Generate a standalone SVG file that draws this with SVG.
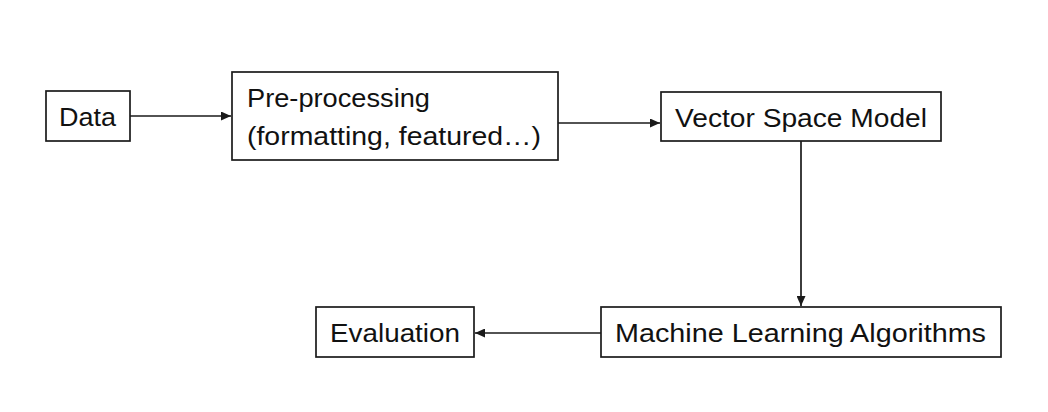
<svg xmlns="http://www.w3.org/2000/svg" width="1048" height="412" viewBox="0 0 1048 412">
<style>
.box{fill:#fff;stroke:#1a1a1a;stroke-width:1.7}
.t{font-family:"Liberation Sans","Open Sans",sans-serif;font-size:25px;fill:#111}
.c{stroke:#1a1a1a;stroke-width:1.7;fill:none}
</style>
<defs>
<marker id="ah" viewBox="0 0 10 9" refX="10" refY="4.5" markerWidth="10" markerHeight="9" markerUnits="userSpaceOnUse" orient="auto">
<path d="M0,0 L10,4.5 L0,9 z" fill="#1a1a1a"/>
</marker>
</defs>
<rect width="1048" height="412" fill="#fff"/>
<g id="connectors">
<line class="c" x1="130" y1="116" x2="231" y2="116" marker-end="url(#ah)"/>
<line class="c" x1="558" y1="123" x2="660" y2="123" marker-end="url(#ah)"/>
<line class="c" x1="801" y1="141" x2="801" y2="306" marker-end="url(#ah)"/>
<line class="c" x1="601" y1="333" x2="475" y2="333" marker-end="url(#ah)"/>
</g>
<g id="data">
<rect class="box" x="46" y="91" width="84" height="50"/>
<text class="t" x="59" y="126" textLength="57" lengthAdjust="spacingAndGlyphs">Data</text>
</g>
<g id="preprocessing">
<rect class="box" x="232" y="72" width="326" height="88"/>
<text class="t" x="247" y="107" textLength="183" lengthAdjust="spacingAndGlyphs">Pre-processing</text>
<text class="t" x="247" y="145" textLength="294" lengthAdjust="spacingAndGlyphs">(formatting, featured…)</text>
</g>
<g id="vsm">
<rect class="box" x="661" y="92" width="280" height="49"/>
<text class="t" x="675" y="127" textLength="252" lengthAdjust="spacingAndGlyphs">Vector Space Model</text>
</g>
<g id="mla">
<rect class="box" x="601" y="307" width="400" height="50"/>
<text class="t" x="615" y="342" textLength="371" lengthAdjust="spacingAndGlyphs">Machine Learning Algorithms</text>
</g>
<g id="evaluation">
<rect class="box" x="316" y="307" width="158" height="50"/>
<text class="t" x="330" y="342" textLength="130" lengthAdjust="spacingAndGlyphs">Evaluation</text>
</g>
</svg>
